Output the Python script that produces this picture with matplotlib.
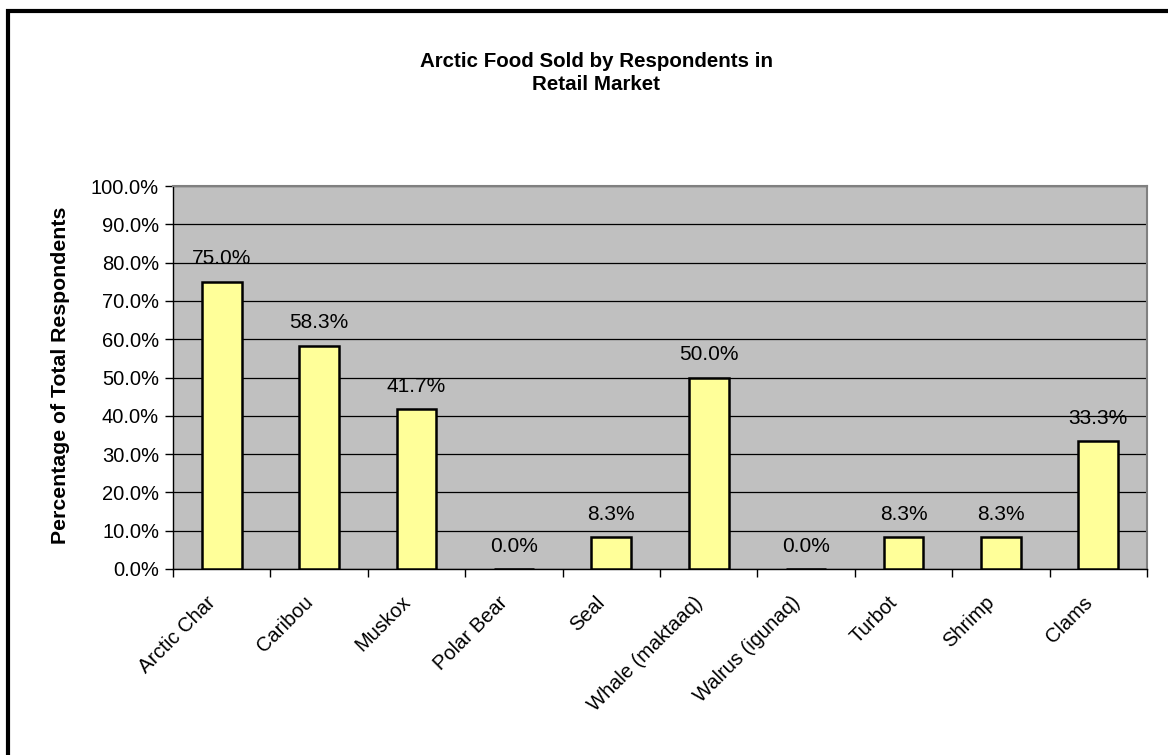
import numpy as np
import matplotlib.pyplot as plt
from matplotlib.patches import Rectangle
from matplotlib.transforms import ScaledTranslation

plt.rcParams['font.family'] = ['Liberation Sans', 'DejaVu Sans']

categories = ['Arctic Char', 'Caribou', 'Muskox', 'Polar Bear', 'Seal',
              'Whale (maktaaq)', 'Walrus (igunaq)', 'Turbot', 'Shrimp', 'Clams']
values = [75.0, 58.3, 41.7, 0.0, 8.3, 50.0, 0.0, 8.3, 8.3, 33.3]
yticks = np.arange(0, 101, 10)

fig = plt.figure(figsize=(11.68, 7.55), dpi=100)
ax = fig.add_axes([173 / 1168, 1 - 569 / 755, (1147 - 173) / 1168, (569 - 186) / 755])
ax.set_facecolor('#C0C0C0')

x = np.arange(len(categories))
ax.bar(x, values, width=0.41, color='#FFFF99', edgecolor='black', linewidth=1.8, zorder=3)
for xi, v in zip(x, values):
    ax.text(xi, v + 6.0, f'{v:.1f}%', ha='center', va='center', fontsize=15, zorder=4)

ax.set_xlim(-0.5, len(categories) - 0.5)
ax.set_ylim(0, 100)
ax.set_yticks(yticks)
ax.set_yticklabels([f'{t:.1f}%' for t in yticks], fontsize=14.5)
ax.yaxis.grid(True, color='black', linewidth=0.9, zorder=1)
ax.set_axisbelow(True)

# category labels sit between the boundary ticks
ax.set_xticks(np.arange(-0.5, len(categories), 1.0))
ax.set_xticklabels([])
ax.set_xticks(x, minor=True)
ax.set_xticklabels(categories, minor=True, rotation=45, ha='right', rotation_mode='anchor', fontsize=14.5)
ax.tick_params(axis='x', which='minor', length=0, pad=12)
ax.tick_params(axis='x', which='major', length=6, width=1, direction='out')
ax.tick_params(axis='y', length=6, width=1, direction='out', pad=4)
shift = ScaledTranslation(-0.16, -0.07, fig.dpi_scale_trans)
for lab in ax.get_xticklabels(minor=True):
    lab.set_transform(lab.get_transform() + shift)

for s in ['top', 'right']:
    ax.spines[s].set_color('#808080')
    ax.spines[s].set_linewidth(1.5)
ax.spines['left'].set_linewidth(1)
ax.spines['bottom'].set_linewidth(1)

ax.set_ylabel('Percentage of Total Respondents', fontsize=15.3, fontweight='bold')
ax.yaxis.set_label_coords(70 / 1168, 1 - 375 / 755, transform=fig.transFigure)

fig.text(596 / 1168, 1 - 73 / 755, 'Arctic Food Sold by Respondents in\nRetail Market',
         ha='center', va='center', fontsize=14.8, fontweight='bold', linespacing=1.3)

# outer frame: only left and top edges fall inside the picture
fig.patches.append(Rectangle((8 / 1168, -0.1), 1.2, 1 - 10.5 / 755 + 0.1,
                             transform=fig.transFigure, fill=False, edgecolor='black', linewidth=3,
                             clip_on=False))

fig.savefig('out.png', dpi=100)
